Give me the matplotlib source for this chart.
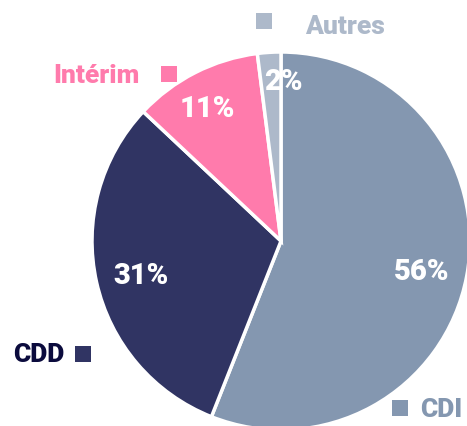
import numpy as np
import matplotlib.pyplot as plt

# Données
categories = ['CDI', 'CDD', 'Intérim', 'Autres']
values = [56, 31, 11, 2]
pct_labels = ['56%', '31%', '11%', '2%']

colors = ['#8497b0', '#303463', '#ff7bac', '#adb9ca']
text_colors = ['#8497b0', '#0b0b3d', '#ff7bac', '#adb9ca']

fig = plt.figure(figsize=(4.67, 4.27), dpi=100)
ax = fig.add_axes([0, 0, 1, 1])

cx, cy, r = 281, 185, 189
wedges, _ = ax.pie(values, colors=colors, startangle=90, counterclock=False,
                   center=(cx, cy), radius=r, frame=True,
                   wedgeprops=dict(edgecolor='white', linewidth=2.5))
ax.set_xlim(0, 467)
ax.set_ylim(0, 427)
ax.set_aspect('equal')
ax.axis('off')

font = ['Roboto', 'DejaVu Sans']

# Pourcentages dans les parts
pct_dist = [0.76, 0.76, 0.82, 0.86]
pct_shift = [0, 0, 1.4, -4.4]  # petit décalage angulaire
for w, lab, d, s in zip(wedges, pct_labels, pct_dist, pct_shift):
    ang = np.deg2rad((w.theta1 + w.theta2) / 2 + s)
    ax.text(cx + d * r * np.cos(ang), cy + d * r * np.sin(ang), lab,
            ha='center', va='center_baseline', color='white', fontsize=21,
            fontweight='black', family=font)

# Étiquettes extérieures avec carrés
label_pos = [(420, 10), (13, 65), (53, 344), (305, 393)]
square_pos = [(400, 18), (83, 72), (169, 352), (264, 405)]
for cat, tc, col, (tx, ty), (sx, sy) in zip(categories, text_colors, colors,
                                            label_pos, square_pos):
    ax.text(tx, ty, cat, ha='left', va='baseline', color=tc, fontsize=19,
            fontweight='black', family=font)
    ax.scatter([sx], [sy], marker='s', s=133, color=col, linewidths=0)

fig.savefig('out.png', dpi=100)
